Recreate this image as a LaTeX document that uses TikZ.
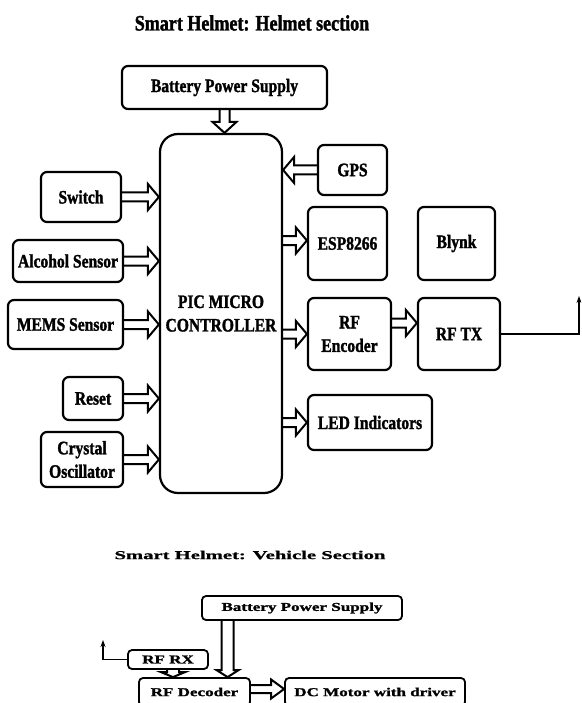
\documentclass[tikz,border=0pt]{standalone}
\usepackage{fontspec}
\setmainfont{Liberation Serif}[FakeStretch=0.82, BoldFeatures={FakeBold=1.6}]
\newfontfamily\widefont{Liberation Serif}[FakeStretch=1.42, BoldFeatures={FakeBold=1.4}]
\newfontfamily\widetitlefont{Liberation Serif}[FakeStretch=1.72, BoldFeatures={FakeBold=1.2}]
\usetikzlibrary{calc,arrows.meta}

\tikzset{
  blk/.style={draw, line width=2.2pt, rounded corners=6pt, align=center, inner sep=0pt,
    font=\bfseries\fontsize{19}{23.5}\selectfont},
  vblk/.style={draw, line width=1.8pt, rounded corners=4pt, align=center, inner sep=0pt,
    font=\widefont\bfseries\fontsize{12}{14}\selectfont},
  arr/.style={line width=2pt, line join=miter},
  ant/.style={line width=1.6pt, -{Stealth[length=7pt,width=5pt]}}
}

% hollow block arrow: from, to, shaft half width, head half width, head length
\newcommand{\fatarrow}[5]{%
  \coordinate (fa1) at (#1);
  \coordinate (fa2) at (#2);
  \coordinate (fab) at ($(fa2)!#5pt!(fa1)$);
  \draw[arr] ($(fa1)!#3pt!90:(fa2)$) -- ($(fab)!#3pt!90:(fa2)$) -- ($(fab)!#4pt!90:(fa2)$)
    -- (fa2) -- ($(fab)!#4pt!-90:(fa2)$) -- ($(fab)!#3pt!-90:(fa2)$) -- ($(fa1)!#3pt!-90:(fa2)$);
}

\begin{document}
\begin{tikzpicture}[x=1pt,y=-1pt]
\useasboundingbox (0,0) rectangle (581,703);
\clip (0,0) rectangle (581,703);

% helmet section
\node (title) at (252,23) {\bfseries\fontsize{22}{24}\selectfont Smart Helmet: Helmet section};

\node[blk, minimum width=205, minimum height=43] (bat) at (224.5,87.5) {Battery Power Supply};
\node[blk, rounded corners=18pt, minimum width=122, minimum height=359] (pic) at (221,313.5) {PIC MICRO\\CONTROLLER};
\node[blk, minimum width=69, minimum height=50] (gps) at (352.5,170) {GPS};
\node[blk, minimum width=80, minimum height=50] (sw) at (81,197) {Switch};
\node[blk, minimum width=79, minimum height=73] (esp) at (347.5,243.5) {ESP8266};
\node[blk, minimum width=77, minimum height=73] (blynk) at (456.5,243.5) {Blynk};
\node[blk, minimum width=110, minimum height=42] (alc) at (68,261) {Alcohol Sensor};
\node[blk, minimum width=115, minimum height=49] (mems) at (65.5,324.5) {MEMS Sensor};
\node[blk, minimum width=60, minimum height=43] (reset) at (93,398.5) {Reset};
\node[blk, minimum width=82, minimum height=55] (xtal) at (82,459.5) {Crystal\\Oscillator};
\node[blk, minimum width=83, minimum height=72] (enc) at (349.5,334) {RF\\Encoder};
\node[blk, minimum width=82, minimum height=72] (rftx) at (459,334) {RF TX};
\node[blk, minimum width=124, minimum height=55] (led) at (370,422.5) {LED Indicators};

\fatarrow{bat.south}{bat.south |- pic.north}{5}{12}{11}
\fatarrow{gps.west}{gps.west -| pic.east}{4.5}{13}{11}
\fatarrow{sw.east}{sw.east -| pic.west}{4.5}{13}{11}
\fatarrow{alc.east}{alc.east -| pic.west}{4.5}{13}{11}
\fatarrow{mems.east}{mems.east -| pic.west}{4.5}{13}{11}
\fatarrow{reset.east}{reset.east -| pic.west}{4.5}{13}{11}
\fatarrow{xtal.east}{xtal.east -| pic.west}{4.5}{13}{11}
\fatarrow{$(pic.east |- esp.west)+(0,-3)$}{$(esp.west)+(0,-3)$}{4.5}{13}{11}
\fatarrow{pic.east |- enc.west}{enc.west}{4.5}{13}{11}
\fatarrow{$(enc.east)+(0,-11)$}{$(rftx.west)+(0,-11)$}{4.5}{13}{11}
\fatarrow{pic.east |- led.west}{led.west}{4.5}{13}{11}

\coordinate (ant1) at (579,296);
\draw[ant] (rftx.east) -| (ant1);

% vehicle section
\node (title2) at (250,555) {\widetitlefont\bfseries\fontsize{12}{14}\selectfont Smart Helmet: Vehicle Section};

\node[vblk, minimum width=200, minimum height=24] (bat2) at (302,608) {Battery Power Supply};
\node[vblk, minimum width=80, minimum height=19] (rx) at (168,659.5) {RF RX};
\node[vblk, minimum width=111, minimum height=28] (dec) at (194.5,692) {RF Decoder};
\node[vblk, minimum width=180, minimum height=28] (mot) at (375,692) {DC Motor with driver};

\coordinate (b2a) at ([xshift=26.5pt]bat2.south west);
\coordinate (b2b) at (b2a |- dec.north);
\fatarrow{b2a}{b2b}{6}{11}{7}
\coordinate (rxa) at ([xshift=5pt]rx.south);
\fatarrow{rxa}{rxa |- dec.north}{6}{12}{5}
\fatarrow{$(dec.east)+(0,-3)$}{$(dec.east -| mot.west)+(0,-3)$}{4}{9.5}{13}

\coordinate (ant2) at (103,640);
\draw[ant] (rx.west) -| (ant2);
\end{tikzpicture}
\end{document}
